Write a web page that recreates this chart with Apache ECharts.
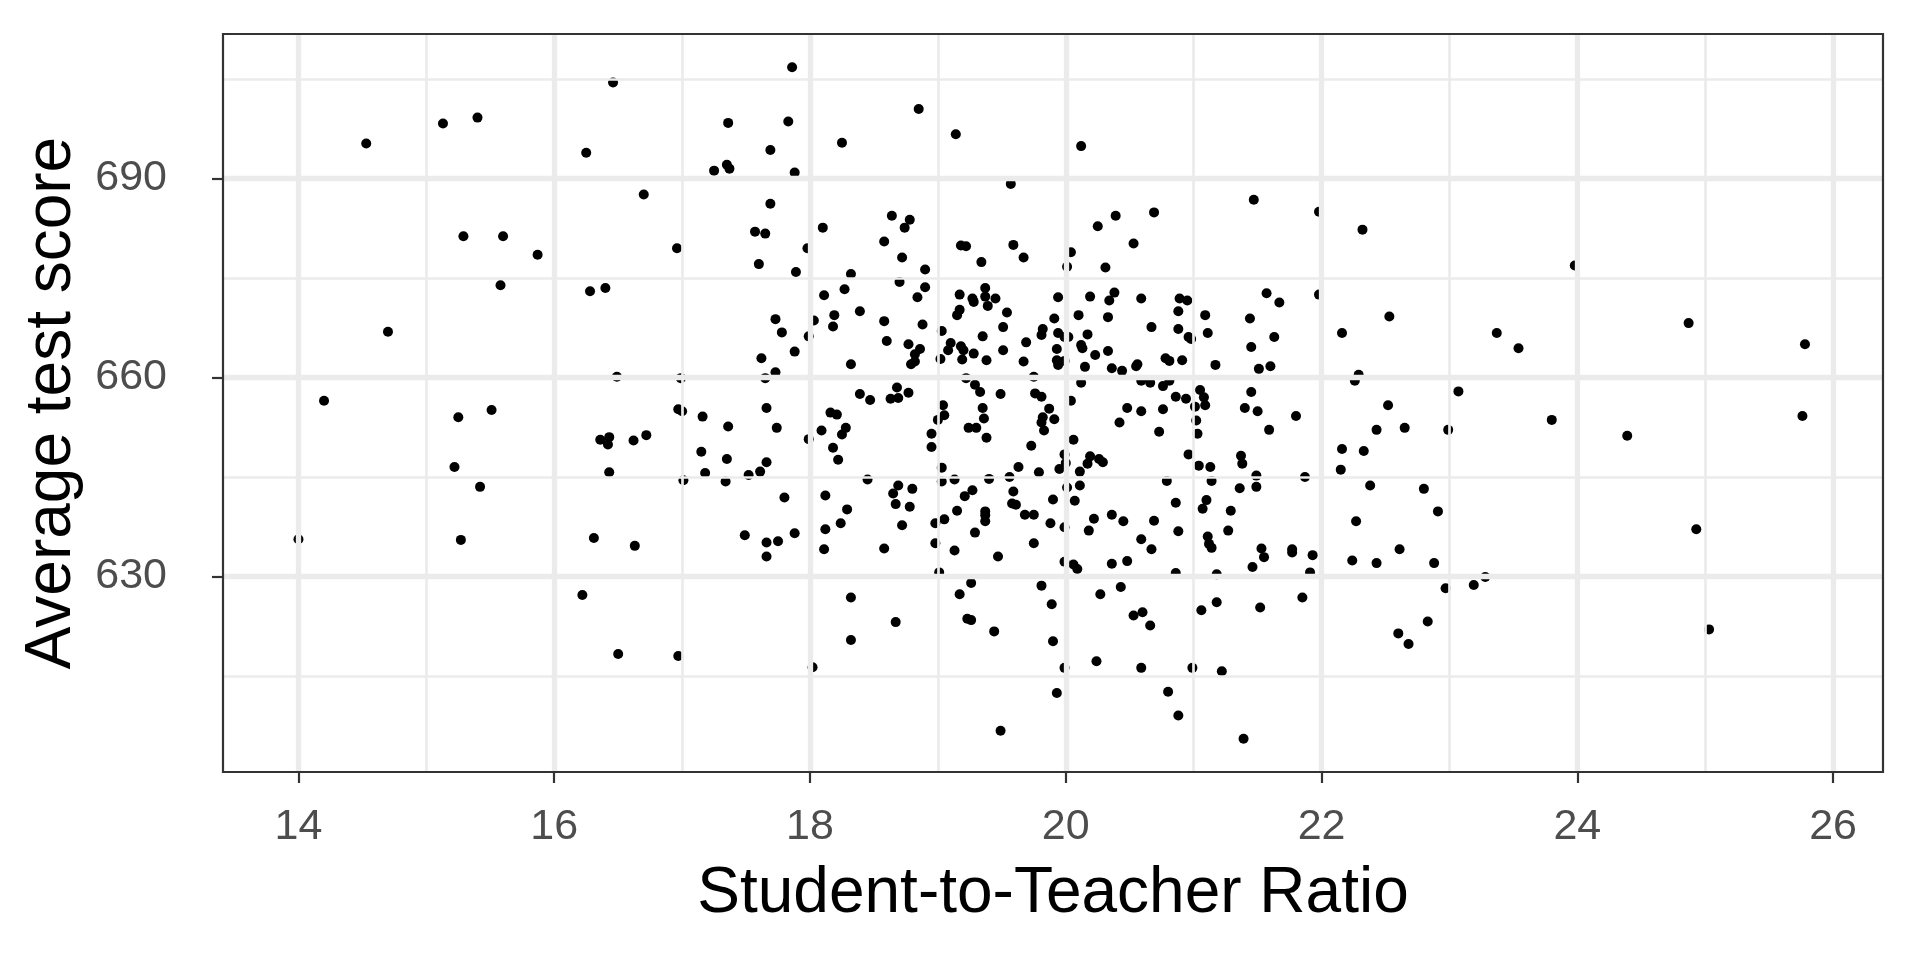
<!DOCTYPE html>
<html>
<head>
<meta charset="utf-8">
<script src="https://cdn.jsdelivr.net/npm/echarts@6/dist/echarts.min.js"></script>
<style>html,body{margin:0;padding:0;background:#fff;}#c{width:1920px;height:960px;}</style>
</head>
<body>
<div id="c"></div>
<script>
// Student-to-teacher ratio (x) and average test score (y)
const ratio = [
16.46,14.53,15.13,15.40,16.25,16.70,15.29,15.60,15.87,16.96,15.58,16.28,16.40,14.70,16.49,16.99,14.20,
15.25,15.51,16.97,17.00,16.36,16.43,16.42,16.62,16.72,15.22,16.43,17.01,15.42,14.00,15.27,16.31,16.63,16.22,16.50,16.97,
17.86,17.36,17.83,17.69,17.25,17.35,17.37,17.88,17.69,18.25,18.85,19.14,19.57,18.64,18.78,
20.12,20.39,20.69,21.47,21.98,
17.57,17.65,18.10,18.74,18.58,17.98,17.60,17.89,18.72,18.90,19.18,19.22,19.59,19.67,19.34,18.32,18.27,18.11,18.70,18.90,
18.84,19.17,19.37,19.27,19.28,19.37,19.45,19.39,19.54,19.17,19.15,17.73,17.78,18.03,18.19,18.18,18.39,18.58,18.88,19.03,
19.51,19.35,17.99,17.88,17.62,17.73,17.65,18.60,18.77,18.86,18.82,18.79,18.82,18.32,19.02,19.10,19.08,19.18,19.20,19.19,
19.28,19.38,19.51,19.69,19.67,19.75,19.22,19.29,19.33,19.49,19.76,18.39,18.47,18.68,18.63,18.69,18.77,
20.25,20.53,20.04,20.01,20.31,22.32,19.94,20.19,20.38,20.34,20.59,20.89,20.95,20.88,21.09,21.57,21.67,21.98,21.44,19.91,
20.10,20.33,19.82,19.81,19.94,19.99,20.02,20.17,20.67,20.88,20.96,20.98,21.11,21.63,22.16,19.93,20.12,20.13,20.23,20.33,
19.93,19.94,19.99,20.15,20.36,20.44,20.55,20.56,20.78,20.81,20.91,21.17,21.45,21.51,21.60,20.12,20.59,20.66,20.76,20.81,
21.05,21.08,21.45,22.29,22.26,19.81,20.04,20.86,20.94,
19.04,19.35,19.36,19.05,19.00,19.24,19.30,19.38,19.73,17.16,17.66,17.36,17.74,17.15,17.35,17.66,17.18,17.34,17.52,17.61,
17.99,18.09,18.16,18.21,18.28,18.25,18.18,18.22,18.45,18.69,18.65,18.80,18.67,18.78,18.72,18.95,18.95,19.03,19.03,19.13,
19.40,19.56,19.63,19.27,19.21,19.59,19.58,19.61,19.68,19.75,19.15,19.37,19.37,19.37,19.05,18.98,19.29,18.98,19.13,19.47,
19.01,19.26,19.75,17.80,18.12,18.29,18.12,18.24,18.11,18.58,17.88,17.49,17.66,17.75,17.66,
19.87,19.82,19.81,19.83,19.91,20.48,20.59,20.76,20.42,20.73,21.01,21.09,21.02,21.03,21.40,21.50,21.80,21.59,22.43,20.06,
19.99,20.00,19.95,20.19,20.17,20.26,20.29,20.11,19.79,20.96,21.04,21.13,21.37,21.38,21.49,21.87,22.16,22.33,22.15,20.01,
20.11,19.90,20.07,20.79,21.14,21.36,21.49,22.38,20.86,21.10,21.07,21.29,19.88,19.99,20.22,20.18,20.36,20.45,20.69,20.88,
20.59,20.67,21.11,21.12,21.14,21.27,22.27,19.99,20.06,20.09,20.36,20.48,20.86,21.18,21.46,21.53,21.55,21.77,21.77,21.93,
21.91,22.24,22.43,19.81,20.43,
18.32,18.67,18.32,18.02,19.17,19.23,19.26,19.44,19.49,
19.89,20.27,20.53,20.60,20.66,21.06,21.18,21.52,21.85,19.90,19.99,20.24,20.59,20.99,21.22,19.93,20.80,20.88,21.39,
23.98,22.53,23.37,23.54,24.87,25.78,23.07,
22.52,22.65,22.99,23.80,24.39,25.76,22.80,22.91,22.61,22.88,24.93,23.28,23.19,22.97,22.83,22.60,22.68,25.03
];
const score = [
704.5,695.3,698.3,699.2,693.9,687.6,681.3,681.3,678.5,679.5,673.9,673.0,673.5,666.9,660.1,659.9,656.5,
654.0,655.1,655.2,654.9,650.6,651.0,649.9,650.5,651.3,646.5,645.7,644.5,643.5,635.6,635.5,635.8,634.6,627.2,618.3,618.0,
706.8,698.4,698.6,694.3,691.2,692.1,691.5,690.9,686.2,695.4,700.5,696.7,689.2,684.4,683.8,
694.9,684.4,684.9,686.8,685.0,
682.0,681.7,682.6,682.6,680.5,679.5,677.1,675.9,678.1,676.3,679.9,679.8,680.0,678.1,677.4,675.6,673.3,672.4,674.4,673.6,
672.1,672.5,673.5,671.9,671.4,672.2,671.9,670.8,669.8,670.2,669.4,668.8,666.8,668.6,669.4,667.7,670.0,668.5,668.0,667.0,
667.6,666.2,666.2,663.9,662.9,660.8,659.9,665.5,665.0,664.3,663.5,662.0,662.4,662.0,662.8,665.2,664.1,664.7,664.1,662.7,
663.6,662.6,664.1,665.3,662.4,660.1,659.9,658.9,657.8,657.5,657.6,657.5,656.6,658.5,656.8,656.9,657.7,
682.8,680.2,678.9,676.7,676.6,682.3,672.1,672.2,672.8,671.6,671.9,671.9,671.6,670.0,669.4,672.7,671.3,672.5,668.9,668.9,
669.4,669.1,667.3,666.4,666.7,666.1,666.1,666.5,667.6,667.3,666.1,665.8,666.7,666.1,666.7,664.3,664.9,664.4,663.4,664.0,
662.6,661.9,662.5,661.6,661.4,661.0,661.7,662.0,662.9,662.5,662.6,661.9,664.6,661.3,661.7,659.2,659.5,659.2,658.7,659.5,
658.1,657.0,657.8,660.4,659.5,657.1,656.5,657.1,656.8,
655.8,655.4,653.8,654.3,653.6,652.4,652.4,650.9,649.7,654.1,655.4,652.6,652.4,648.8,647.7,647.2,645.6,644.3,645.3,645.8,
650.7,652.0,654.7,654.4,652.4,651.4,649.4,647.6,644.6,643.7,642.5,643.2,640.9,640.5,637.7,651.5,649.5,646.4,644.3,644.6,
644.7,645.0,646.5,643.0,642.1,642.8,641.0,640.8,639.3,639.3,639.9,639.8,639.2,638.3,638.6,638.0,636.6,635.0,633.9,633.0,
630.6,629.0,635.0,641.9,642.2,640.1,637.1,638.0,634.1,634.2,636.5,636.2,635.1,635.3,633.0,
655.3,654.0,653.2,652.0,653.7,655.4,654.9,655.2,653.2,651.8,655.6,655.8,653.5,651.5,655.4,654.9,654.2,652.1,652.1,650.6,
648.4,647.1,646.2,648.1,647.0,647.7,647.2,645.8,645.7,648.4,646.7,646.5,648.2,647.0,645.2,645.0,649.2,648.9,646.1,643.4,
643.7,641.6,641.4,644.4,644.4,643.3,643.5,643.7,641.1,641.5,640.2,639.9,638.0,637.4,638.7,636.9,639.3,638.3,638.4,636.8,
635.6,634.1,636.0,634.9,634.3,636.9,638.3,632.2,631.8,631.1,631.9,632.3,630.5,630.3,631.4,634.2,632.9,634.1,633.6,633.2,
630.6,632.4,632.0,628.6,628.4,
626.8,623.1,620.4,616.3,627.3,623.6,623.4,621.7,606.7,
625.8,627.3,624.1,624.6,622.6,624.9,626.1,625.3,626.8,620.2,616.2,617.2,616.2,616.2,615.7,612.4,612.6,609.0,605.5,
676.9,669.2,666.7,664.4,668.2,665.0,657.9,
655.8,652.4,652.1,653.6,651.2,654.2,643.2,639.8,634.1,632.0,637.1,629.9,628.7,628.2,623.2,621.4,619.8,622.0
];
const xTicks = [14, 16, 18, 20, 22, 24, 26];
const xMinor = [15, 17, 19, 21, 23, 25];
const yTicks = [630, 660, 690];
const yMinor = [615, 645, 675, 705];
const xTitle = 'Student-to-Teacher Ratio';
const yTitle = 'Average test score';

const points = ratio.map((r, i) => [r, score[i]]);
const FONT = '"Liberation Sans", Arial, sans-serif';

const chart = echarts.init(document.getElementById('c'), null, {renderer: 'canvas'});
const gridLines = []
  .concat(xMinor.map(v => ({xAxis: v, lineStyle: {width: 2.7}})))
  .concat(yMinor.map(v => ({yAxis: v, lineStyle: {width: 2.7}})))
  .concat(xTicks.map(v => ({xAxis: v, lineStyle: {width: 5.3}})))
  .concat(yTicks.map(v => ({yAxis: v, lineStyle: {width: 5.3}})));

chart.setOption({
  animation: false,
  backgroundColor: '#ffffff',
  grid: {left: 223, right: 37, top: 34, bottom: 188, show: true, backgroundColor: '#ffffff', borderWidth: 0},
  xAxis: {
    type: 'value', min: 13.41, max: 26.39,
    splitLine: {show: false},
    axisLine: {show: false},
    axisTick: {show: true, length: 11, lineStyle: {color: '#333333', width: 2.2}, customValues: xTicks},
    axisLabel: {customValues: xTicks, color: '#4D4D4D', fontSize: 43, fontFamily: FONT, margin: 34},
    name: xTitle, nameLocation: 'middle', nameGap: 90,
    nameTextStyle: {fontSize: 64, color: '#000000', fontFamily: FONT}
  },
  yAxis: {
    type: 'value', min: 600.49, max: 711.81,
    splitLine: {show: false},
    axisLine: {show: false},
    axisTick: {show: true, length: 11, lineStyle: {color: '#333333', width: 2.2}, customValues: yTicks},
    axisLabel: {customValues: yTicks, color: '#4D4D4D', fontSize: 43, fontFamily: FONT, margin: 56},
    name: yTitle, nameLocation: 'middle', nameGap: 134, nameRotate: 90,
    nameTextStyle: {fontSize: 64, color: '#000000', fontFamily: FONT}
  },
  series: [
    {
      type: 'scatter', data: [], z: 1, silent: true,
      markLine: {
        silent: true, symbol: ['none', 'none'], label: {show: false},
        lineStyle: {color: '#EBEBEB', type: 'solid'},
        emphasis: {disabled: true},
        data: gridLines
      }
    },
    {
      type: 'scatter', data: points, z: 3, symbol: 'circle', symbolSize: 10,
      itemStyle: {color: '#000000', opacity: 1}, silent: true
    }
  ],
  graphic: [{
    type: 'rect', z: 100, silent: true,
    shape: {x: 223, y: 34, width: 1920 - 223 - 37, height: 960 - 34 - 188},
    style: {fill: 'none', stroke: '#333333', lineWidth: 2.2}
  }]
});
</script>
</body>
</html>
